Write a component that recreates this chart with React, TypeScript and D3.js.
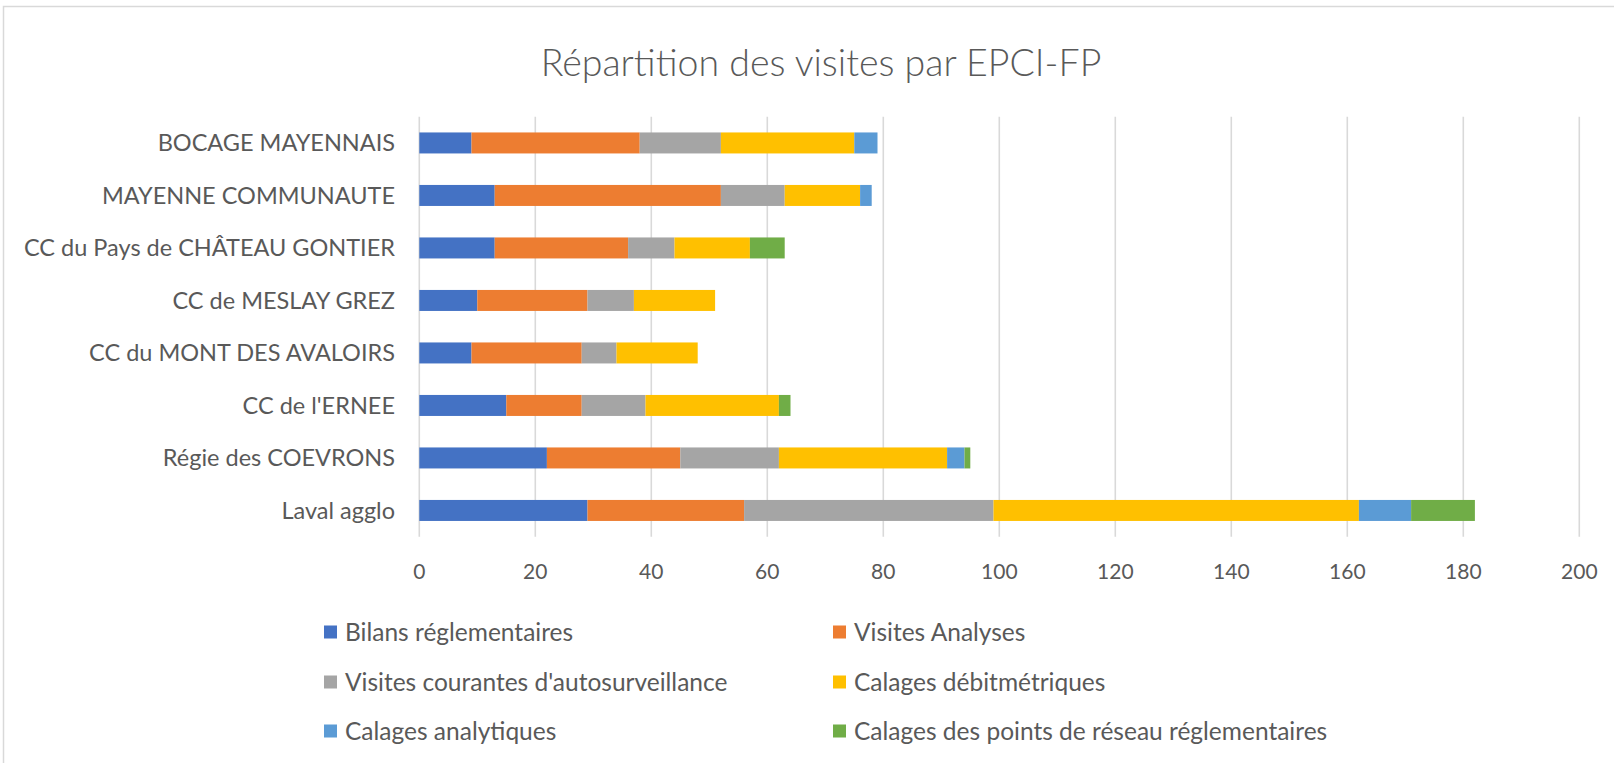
import React from "react";
import * as d3 from "d3";

const categories = [
  "BOCAGE MAYENNAIS",
  "MAYENNE COMMUNAUTE",
  "CC du Pays de CHÂTEAU GONTIER",
  "CC de MESLAY GREZ",
  "CC du MONT DES AVALOIRS",
  "CC de l'ERNEE",
  "Régie des COEVRONS",
  "Laval agglo",
];

const seriesNames = [
  "Bilans réglementaires",
  "Visites Analyses",
  "Visites courantes d'autosurveillance",
  "Calages débitmétriques",
  "Calages analytiques",
  "Calages des points de réseau réglementaires",
];

const seriesColors = ["#4472C4", "#ED7D31", "#A5A5A5", "#FFC000", "#5B9BD5", "#70AD47"];

const bilans = [9, 13, 13, 10, 9, 15, 22, 29];
const visitesAnalyses = [29, 39, 23, 19, 19, 13, 23, 27];
const visitesCourantes = [14, 11, 8, 8, 6, 11, 17, 43];
const calagesDebit = [23, 13, 13, 14, 14, 23, 29, 63];
const calagesAnalytiques = [4, 2, 0, 0, 0, 0, 3, 9];
const calagesReseau = [0, 0, 6, 0, 0, 2, 1, 11];

const xTicks = [0, 20, 40, 60, 80, 100, 120, 140, 160, 180, 200];

const title = "Répartition des visites par EPCI-FP";

export default function App() {
  const W = 1614;
  const H = 763;
  const left = 419.3;
  const right = 1579.3;
  const top = 116.7;
  const bottom = 536.7;
  const font = "Lato, 'Open Sans', sans-serif";
  const textColor = "#595959";

  const x = d3.scaleLinear().domain([0, 200]).range([left, right]);
  const y = d3
    .scaleBand<string>()
    .domain(categories)
    .range([top, bottom])
    .paddingInner(0.6)
    .paddingOuter(0.3);

  const allSeries = [bilans, visitesAnalyses, visitesCourantes, calagesDebit, calagesAnalytiques, calagesReseau];
  const rows = categories.map((c, i) => {
    const r: any = { cat: c };
    seriesNames.forEach((s, j) => (r[s] = allSeries[j][i]));
    return r;
  });
  const stacked = d3.stack<any>().keys(seriesNames)(rows);

  const legendCols = [324, 833];
  const legendRows = [632, 682, 731];

  return (
    <svg
      width={W}
      height={H}
      style={{ position: "absolute", left: 0, top: 0, background: "#fff" }}
      fontFamily={font}
    >
      <rect x={0} y={0} width={W} height={H} fill="#fff" />
      <rect x={3.5} y={6.5} width={W + 20} height={H + 20} fill="none" stroke="#d9d9d9" strokeWidth={1.5} />
      <text x={821} y={76} textAnchor="middle" fontSize={37.5} fill={textColor} fontWeight={300}>
        {title}
      </text>
      {xTicks.map((t) => (
        <line key={"g" + t} x1={x(t)} x2={x(t)} y1={top} y2={bottom} stroke="#d9d9d9" strokeWidth={1.6} />
      ))}
      {stacked.map((layer, j) => (
        <g key={layer.key} fill={seriesColors[j]}>
          {layer.map((d, i) =>
            d[1] - d[0] > 0 ? (
              <rect
                key={i}
                x={x(d[0])}
                width={x(d[1]) - x(d[0])}
                y={y(categories[i])!}
                height={y.bandwidth()}
              />
            ) : null
          )}
        </g>
      ))}
      {categories.map((c) => (
        <text
          key={c}
          x={395}
          y={y(c)! + y.bandwidth() / 2}
          dy="0.35em"
          textAnchor="end"
          fontSize={23.5}
          fill={textColor}
        >
          {c}
        </text>
      ))}
      {xTicks.map((t) => (
        <text key={"t" + t} x={x(t)} y={572} dy="0.35em" textAnchor="middle" fontSize={21} fill={textColor}>
          {t}
        </text>
      ))}
      {seriesNames.map((s, j) => {
        const cx = legendCols[j % 2];
        const cy = legendRows[Math.floor(j / 2)];
        return (
          <g key={s}>
            <rect x={cx} y={cy - 6.5} width={13} height={13} fill={seriesColors[j]} />
            <text x={cx + 21} y={cy} dy="0.35em" fontSize={24.5} fill={textColor}>
              {s}
            </text>
          </g>
        );
      })}
    </svg>
  );
}
